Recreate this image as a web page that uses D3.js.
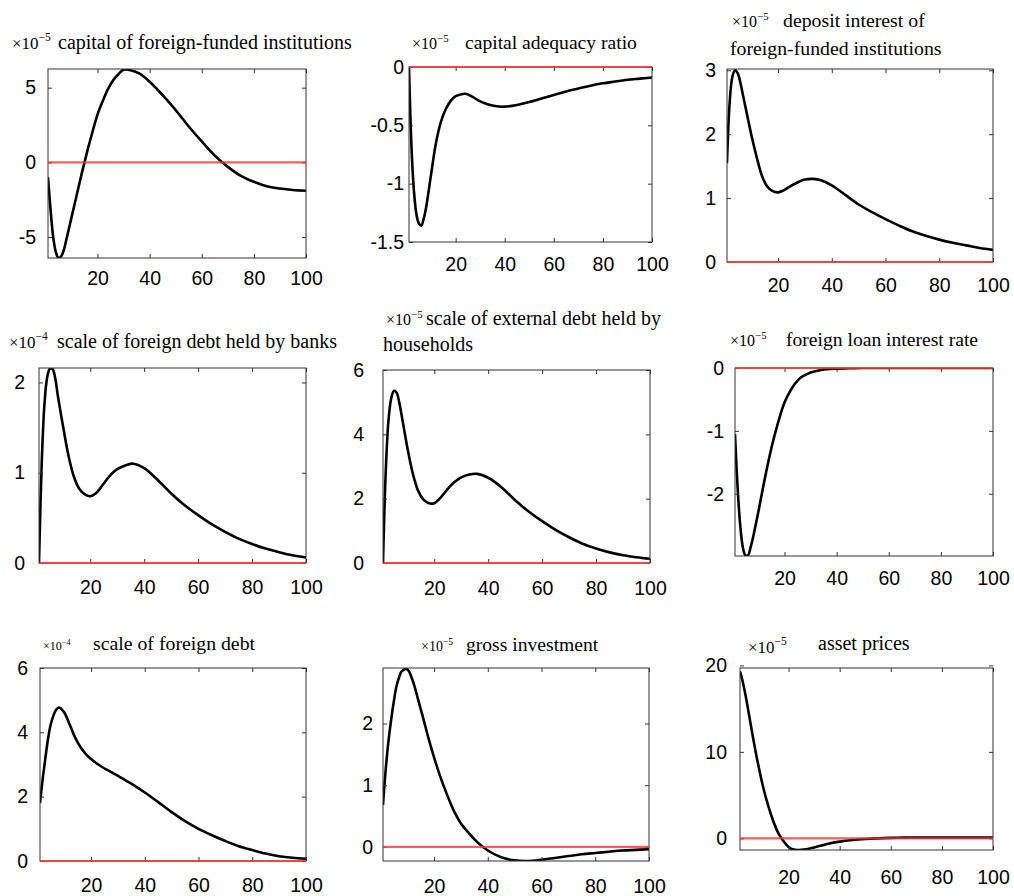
<!DOCTYPE html>
<html>
<head>
<meta charset="utf-8">
<script src="https://cdn.jsdelivr.net/npm/d3@7"></script>
<style>
  body { margin: 0; background: #fff; }
  svg { display: block; }
  .tick text { font-family: "Liberation Sans", Arial, sans-serif; font-size: 19.5px; fill: #000; }
  .tick line { stroke: #333; }
  .title { font-family: "Liberation Serif", "Times New Roman", serif; fill: #000; }
</style>
</head>
<body>
<svg id="chart" width="1014" height="896"></svg>
<script>
/* impulse responses, 9 panels, periods 1..100 */
const periods = [1, 2, 3, 4, 5, 6, 7, 8, 10, 12, 14, 16, 18, 20, 22, 24, 26, 28, 30, 33, 36, 40, 45, 50, 55, 60, 65, 70, 75, 80, 85, 90, 95, 100];

const capitalForeign  = [-1.0, -3.2, -5.0, -6.0, -6.4, -6.3, -5.9, -5.2, -3.7, -2.2, -0.7, 0.7, 2.0, 3.2, 4.1, 4.9, 5.5, 5.9, 6.2, 6.15, 5.95, 5.4, 4.5, 3.5, 2.4, 1.4, 0.45, -0.3, -0.9, -1.3, -1.6, -1.75, -1.85, -1.9];
const capitalAdequacy = [0, -0.68, -1.06, -1.26, -1.34, -1.36, -1.3, -1.2, -0.92, -0.65, -0.47, -0.36, -0.29, -0.25, -0.235, -0.23, -0.245, -0.27, -0.295, -0.32, -0.335, -0.34, -0.325, -0.3, -0.27, -0.24, -0.21, -0.185, -0.16, -0.14, -0.125, -0.11, -0.1, -0.09];
const depositInterest = [1.55, 2.5, 2.9, 3.0, 2.95, 2.8, 2.6, 2.4, 2.0, 1.65, 1.35, 1.18, 1.11, 1.09, 1.12, 1.17, 1.22, 1.26, 1.29, 1.30, 1.28, 1.2, 1.05, 0.9, 0.78, 0.67, 0.57, 0.48, 0.41, 0.35, 0.3, 0.26, 0.22, 0.19];
const banksDebt       = [0, 1.1, 1.75, 2.05, 2.15, 2.15, 2.05, 1.85, 1.5, 1.18, 0.95, 0.82, 0.76, 0.74, 0.77, 0.84, 0.92, 0.99, 1.04, 1.08, 1.1, 1.05, 0.92, 0.77, 0.64, 0.53, 0.43, 0.345, 0.27, 0.21, 0.16, 0.12, 0.085, 0.06];
const householdDebt   = [0, 2.8, 4.4, 5.1, 5.35, 5.3, 5.0, 4.55, 3.6, 2.8, 2.25, 1.97, 1.86, 1.86, 2.0, 2.2, 2.4, 2.55, 2.66, 2.75, 2.77, 2.65, 2.35, 1.95, 1.6, 1.3, 1.03, 0.8, 0.6, 0.45, 0.33, 0.24, 0.18, 0.13];
const foreignLoanRate = [-1.05, -1.9, -2.5, -2.85, -2.98, -2.98, -2.85, -2.68, -2.28, -1.85, -1.45, -1.1, -0.8, -0.55, -0.38, -0.25, -0.16, -0.11, -0.07, -0.04, -0.02, -0.01, -0.005, 0, 0, 0, 0, 0, 0, 0, 0, 0, 0, 0];
const foreignDebt     = [1.8, 2.55, 3.2, 3.8, 4.25, 4.52, 4.7, 4.77, 4.62, 4.25, 3.85, 3.55, 3.33, 3.17, 3.04, 2.93, 2.83, 2.74, 2.65, 2.5, 2.35, 2.13, 1.83, 1.52, 1.24, 1.0, 0.8, 0.62, 0.46, 0.34, 0.23, 0.15, 0.1, 0.07];
const grossInvestment = [0.68, 1.25, 1.7, 2.05, 2.35, 2.6, 2.75, 2.85, 2.88, 2.7, 2.4, 2.08, 1.75, 1.45, 1.18, 0.94, 0.72, 0.53, 0.38, 0.22, 0.08, -0.06, -0.17, -0.22, -0.23, -0.21, -0.18, -0.15, -0.12, -0.1, -0.08, -0.06, -0.05, -0.04];
const assetPrices     = [19.3, 18.2, 16.8, 15.2, 13.5, 11.8, 10.2, 8.7, 6.0, 3.8, 2.0, 0.6, -0.3, -1.0, -1.3, -1.35, -1.3, -1.2, -1.05, -0.82, -0.6, -0.38, -0.2, -0.08, 0, 0.05, 0.08, 0.1, 0.1, 0.1, 0.1, 0.1, 0.1, 0.1];

const series = [capitalForeign, capitalAdequacy, depositInterest, banksDebt, householdDebt, foreignLoanRate, foreignDebt, grossInvestment, assetPrices];

const titleExponents = ['\u22125', '\u22125', '\u22125', '\u22124', '\u22125', '\u22125', '\u22124', '\u22125', '\u22125'];
const titleLines = [
  ['capital of foreign-funded institutions'],
  ['capital adequacy ratio'],
  ['deposit interest of', 'foreign-funded institutions'],
  ['scale of foreign debt held by banks'],
  ['scale of external debt held by', 'households'],
  ['foreign loan interest rate'],
  ['scale of foreign debt'],
  ['gross investment'],
  ['asset prices']
];

const xDomain = [1, 100];
const xTicks = [20, 40, 60, 80, 100];
const yDomains = [[-6.4, 6.25], [-1.5, 0], [0, 3.02], [0, 2.16], [0, 6], [-2.99, 0], [0, 6], [-0.23, 2.9], [-1.35, 19.7]];
const yTicks = [[-5, 0, 5], [-1.5, -1, -0.5, 0], [0, 1, 2, 3], [0, 1, 2], [0, 2, 4, 6], [-2, -1, 0], [0, 2, 4, 6], [0, 1, 2], [0, 10, 20]];

// layout: box [left, top, right, bottom], y label gap, x label centre offset
const boxes = [
  [48, 69, 306, 258, 12, 20], [409, 67, 652, 242, 5, 22], [727, 69, 993, 262, 11, 23],
  [39, 368, 306, 563, 14, 24], [383, 370, 650, 563, 19, 25], [735, 368, 993, 556, 11, 22],
  [40, 668, 306, 861, 12, 24], [383, 668, 649, 861, 10, 25], [740, 668, 993, 850, 13, 27]
];
// title placement: prefix x, prefix baseline, prefix size, text x, baseline, text size, second line x, second baseline
const titlePos = [
  [12, 49, 17, 58, 49, 20],
  [412, 49, 16, 465, 49, 19.6],
  [732, 27, 16, 783, 27, 19.8, 730, 55],
  [9, 348, 17, 57, 348, 20],
  [386, 325, 16, 426, 325, 20, 383, 351],
  [730, 346, 16, 786, 346, 19.6],
  [43, 650, 12, 93, 650, 19.8],
  [421, 651, 14, 466, 651, 19.6],
  [748, 653, 17, 818, 650, 20]
];

const svg = d3.select('#chart');
const fmt = d => String(d);

series.forEach((vals, i) => {
  const [x0, y0, x1, y1, gap, xoff] = boxes[i];
  const x = d3.scaleLinear().domain(xDomain).range([x0, x1]);
  const y = d3.scaleLinear().domain(yDomains[i]).range([y1, y0]);
  const g = svg.append('g');

  g.append('clipPath').attr('id', 'clip' + i)
    .append('rect').attr('x', x0).attr('y', y0).attr('width', x1 - x0).attr('height', y1 - y0);

  const line = d3.line().x(d => x(d[0])).y(d => y(d[1])).curve(d3.curveCatmullRom.alpha(0.5));
  g.append('path')
    .datum(periods.map((p, k) => [p, vals[k]]))
    .attr('d', line)
    .attr('fill', 'none').attr('stroke', '#000').attr('stroke-width', 2.6)
    .attr('clip-path', `url(#clip${i})`);

  // axes, ticks pointing inward, mirrored on top / right
  g.append('g').attr('transform', `translate(0,${y1})`)
    .call(d3.axisBottom(x).tickValues(xTicks).tickSizeInner(-4).tickSizeOuter(0).tickPadding(xoff - 7).tickFormat(fmt));
  g.append('g').attr('transform', `translate(0,${y0})`)
    .call(d3.axisTop(x).tickValues(xTicks).tickSizeInner(-4).tickSizeOuter(0).tickFormat(''));
  g.append('g').attr('transform', `translate(${x0},0)`)
    .call(d3.axisLeft(y).tickValues(yTicks[i]).tickSizeInner(-4).tickSizeOuter(0).tickPadding(gap).tickFormat(fmt));
  g.append('g').attr('transform', `translate(${x1},0)`)
    .call(d3.axisRight(y).tickValues(yTicks[i]).tickSizeInner(-4).tickSizeOuter(0).tickFormat(''));
  g.selectAll('.domain').remove();

  g.append('rect').attr('x', x0).attr('y', y0).attr('width', x1 - x0).attr('height', y1 - y0)
    .attr('fill', 'none').attr('stroke', '#333').attr('stroke-width', 1);

  // zero reference line
  g.append('line')
    .attr('x1', x(xDomain[0])).attr('x2', x(xDomain[1]))
    .attr('y1', y(0)).attr('y2', y(0))
    .attr('stroke', '#ff3333').attr('stroke-opacity', 0.8).attr('stroke-width', 2.2);

  // title with x10^n prefix
  const tp = titlePos[i];
  const pre = g.append('text').attr('class', 'title').attr('x', tp[0]).attr('y', tp[1]).attr('font-size', tp[2]);
  pre.append('tspan').text('\u00d710');
  pre.append('tspan').attr('font-size', tp[2] * 0.68).attr('dy', -tp[2] * 0.45).text(titleExponents[i]);
  titleLines[i].forEach((t, k) => {
    g.append('text').attr('class', 'title').attr('font-size', tp[5])
      .attr('x', k === 0 ? tp[3] : tp[6]).attr('y', k === 0 ? tp[4] : tp[7])
      .text(t);
  });
});
</script>
</body>
</html>
